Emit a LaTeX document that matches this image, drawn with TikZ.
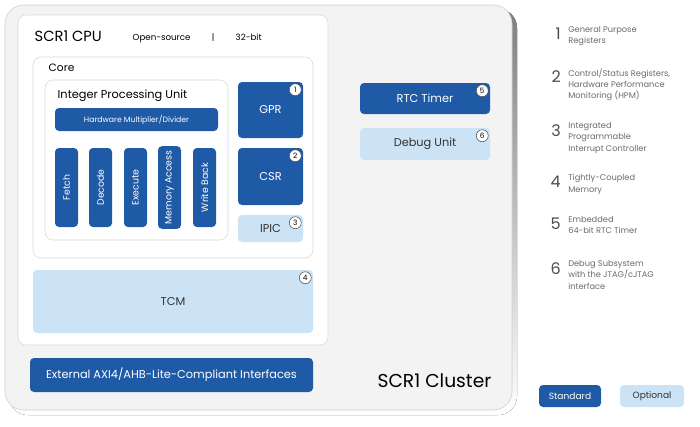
\documentclass[tikz,border=0pt]{standalone}
\usepackage{fontspec}
\setmainfont{Poppins}
\definecolor{stdblue}{HTML}{1F5AA6}
\definecolor{optblue}{HTML}{CCE3F6}
\definecolor{clusterbg}{HTML}{F3F3F4}
\definecolor{shade}{HTML}{98A2B6}
\definecolor{legtext}{HTML}{6A6A6A}
\tikzset{
  std/.style={draw=none, fill=stdblue, rounded corners=3pt, text=white, font=\fontsize{8}{9}\selectfont},
  opt/.style={draw=none, fill=optblue, rounded corners=3pt, text=black!80, font=\fontsize{8}{9}\selectfont},
  frame/.style={draw=black!15, fill=white, rounded corners=6pt},
  badge/.style={circle, draw=black!70, fill=white, inner sep=0pt, minimum size=9pt, font=\fontsize{5.5}{6}\selectfont},
  legnum/.style={anchor=north east, font=\fontsize{12}{12}\selectfont, text=black!70, inner sep=0pt},
  legtxt/.style={anchor=north west, align=left, font=\fontsize{6.2}{8.6}\selectfont, text=legtext, inner sep=0pt}
}
\begin{document}
\begin{tikzpicture}[x=0.75pt, y=-0.75pt]
\useasboundingbox (0,0) rectangle (700,426);

% cluster
\fill[shade, rounded corners=14pt] (9,9) rectangle (517,415);
\draw[draw=black!20, fill=clusterbg, rounded corners=14pt] (5,5) rectangle (512,410);
\node[anchor=base east, font=\fontsize{14}{14}\selectfont] (clusterlbl) at (496,387) {SCR1 Cluster};

% cpu
\draw[frame] (18,15) rectangle (328,345);
\node[anchor=base west, font=\fontsize{11}{11}\selectfont] (cpulbl) at (30,41) {SCR1 CPU};
\node[anchor=base west, font=\fontsize{6.5}{7}\selectfont] (osrc) at (128,40) {Open-source\hspace{16pt}|\hspace{16pt}32-bit};

% core
\draw[frame] (33,57) rectangle (313,258);
\node[anchor=base west, font=\fontsize{8}{9}\selectfont] (corelbl) at (44,71) {Core};

% integer processing unit
\draw[frame] (45,80) rectangle (228,240);
\node[anchor=base west, font=\fontsize{8.5}{9}\selectfont] (ipulbl) at (53,98) {Integer Processing Unit};
\node[std, minimum width=163*0.75pt, minimum height=23*0.75pt, font=\fontsize{5.8}{6}\selectfont] (hmd) at (136.5,119.5) {Hardware Multiplier/Divider};

\foreach \x/\t [count=\i] in {66.5/Fetch, 100.5/Decode, 135.5/Execute, 169.5/Memory Access, 204.5/Write Back}
  \node[std, minimum width=79*0.75pt, minimum height=23*0.75pt, rotate=90, font=\fontsize{7}{7}\selectfont] (stage\i) at (\x,187.5) {\t};

% registers
\node[std, minimum width=65*0.75pt, minimum height=56*0.75pt, font=\fontsize{8.5}{9}\selectfont] (gpr) at (270.5,110) {GPR};
\node[std, minimum width=65*0.75pt, minimum height=57*0.75pt, font=\fontsize{8.5}{9}\selectfont] (csr) at (270.5,176.5) {CSR};
\node[opt, minimum width=65*0.75pt, minimum height=27*0.75pt, font=\fontsize{8.5}{9}\selectfont] (ipic) at (270.5,228.5) {IPIC};

% memory
\node[opt, minimum width=280*0.75pt, minimum height=63*0.75pt, font=\fontsize{8.5}{9}\selectfont] (tcm) at (173,301.5) {TCM};
\node[std, minimum width=283*0.75pt, minimum height=34*0.75pt, font=\fontsize{8.5}{9}\selectfont] (ext) at (171.5,375) {External AXI4/AHB-Lite-Compliant Interfaces};

% cluster units
\node[std, minimum width=130*0.75pt, minimum height=31*0.75pt, font=\fontsize{8.5}{9}\selectfont] (rtc) at (425,98.5) {RTC Timer};
\node[opt, minimum width=130*0.75pt, minimum height=32*0.75pt, font=\fontsize{8.5}{9}\selectfont] (dbg) at (425,144) {Debug Unit};

% badges
\node[badge] (b1) at (gpr.north east) [xshift=-6pt, yshift=-6pt] {1};
\node[badge] (b2) at (csr.north east) [xshift=-6pt, yshift=-6pt] {2};
\node[badge] (b3) at (ipic.north east) [xshift=-6pt, yshift=-6pt] {3};
\node[badge] (b4) at (tcm.north east) [xshift=-6pt, yshift=-6pt] {4};
\node[badge] (b5) at (rtc.north east) [xshift=-6pt, yshift=-6pt] {5};
\node[badge] (b6) at (dbg.north east) [xshift=-6pt, yshift=-6pt] {6};

% legend
\foreach \y/\n/\t in {26/1/{General Purpose\\Registers},
                     68/2/{Control/Status Registers,\\Hardware Performance\\Monitoring (HPM)},
                     122/3/{Integrated\\Programmable\\Interrupt Controller},
                     174/4/{Tightly-Coupled\\Memory},
                     216/5/{Embedded\\64-bit RTC Timer},
                     260/6/{Debug Subsystem\\with the JTAG/cJTAG\\interface}} {
  \node[legnum] (num\n) at (561,\y+2) {\n};
  \node[legtxt] (leg\n) at (568,\y) {\t};
}
\node[std, minimum width=62*0.75pt, minimum height=22*0.75pt, font=\fontsize{6.8}{7}\selectfont] (stdkey) at (570,396) {Standard};
\node[opt, minimum width=64*0.75pt, minimum height=22*0.75pt, font=\fontsize{6.8}{7}\selectfont] (optkey) at (652,396) {Optional};
\end{tikzpicture}
\end{document}
